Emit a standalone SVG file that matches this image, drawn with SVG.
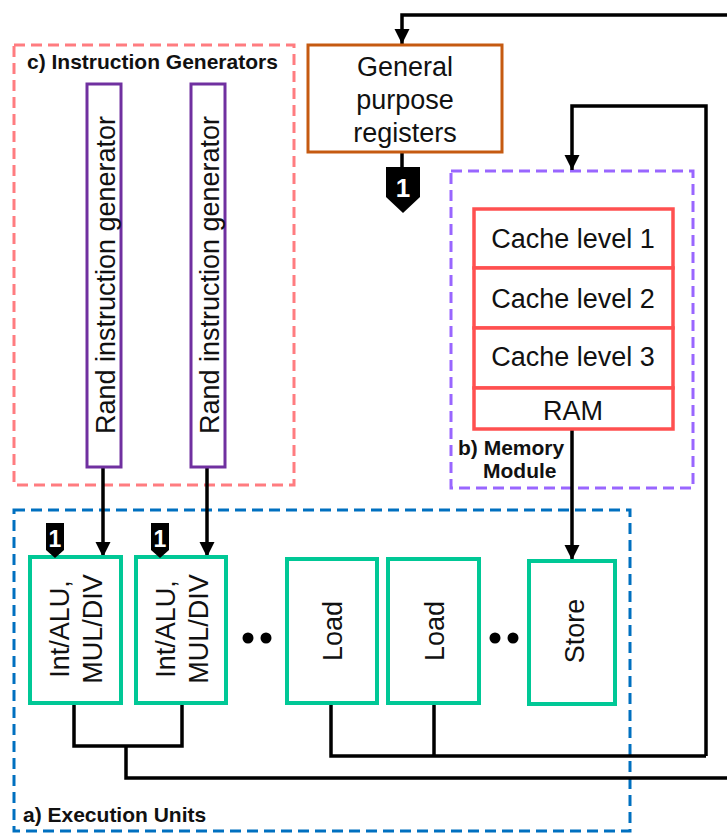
<svg xmlns="http://www.w3.org/2000/svg" width="727" height="833" viewBox="0 0 727 833">
  <style>
    .txt { font-family: "Liberation Sans", Arial, sans-serif; font-size: 27px; fill: #111; }
    .lbl { font-family: "Liberation Sans", Arial, sans-serif; font-size: 21px; font-weight: bold; fill: #111; }
    .badge-num { font-family: "Liberation Sans", Arial, sans-serif; font-weight: bold; fill: #fff; text-anchor: middle; }
    .unit { fill: #fff; stroke: #00C896; stroke-width: 4; }
    .gen { fill: #fff; stroke: #7030A0; stroke-width: 3; }
    .mem { fill: #fff; stroke: #FF5050; stroke-width: 3.5; }
    .wire { fill: none; stroke: #000; stroke-width: 3.5; }
    .group { fill: none; stroke-width: 3; stroke-dasharray: 11 6; }
  </style>
  <defs>
    <marker id="arrow" viewBox="0 0 10 10" refX="10" refY="5" markerWidth="4.3" markerHeight="4.3" markerUnits="strokeWidth" orient="auto">
      <path d="M0,0 L10,5 L0,10 Z" fill="#000"/>
    </marker>
  </defs>

  <!-- group frames -->
  <g id="instruction-generators">
    <rect class="group" x="14" y="45" width="280" height="440" stroke="#FF7C80"/>
    <text class="lbl" x="27" y="69">c) Instruction Generators</text>
  </g>
  <g id="execution-units">
    <rect class="group" x="14" y="510" width="616" height="321" stroke="#0070C0"/>
    <text class="lbl" x="23" y="822">a) Execution Units</text>
  </g>
  <g id="memory-module">
    <rect class="group" x="451" y="171" width="242" height="317" stroke="#9966FF"/>
    <text class="lbl" x="458" y="455">b) Memory</text>
    <text class="lbl" x="483" y="478">Module</text>
  </g>

  <!-- connectors -->
  <g id="connectors">
    <polyline class="wire" points="727,15 402,15 402,44" marker-end="url(#arrow)"/>
    <polyline class="wire" points="706,756 706,106 572,106 572,170" marker-end="url(#arrow)"/>
    <line class="wire" x1="402" y1="152" x2="402" y2="168"/>
    <line class="wire" x1="103" y1="467" x2="103" y2="557" marker-end="url(#arrow)"/>
    <line class="wire" x1="207" y1="467" x2="207" y2="557" marker-end="url(#arrow)"/>
    <line class="wire" x1="572" y1="429" x2="572" y2="560" marker-end="url(#arrow)"/>
    <polyline class="wire" points="74,703 74,746 182,746 182,703"/>
    <polyline class="wire" points="126,746 126,778 727,778"/>
    <polyline class="wire" points="331,703 331,756 706,756"/>
    <line class="wire" x1="434" y1="703" x2="434" y2="756"/>
  </g>

  <!-- register file -->
  <g id="gpr">
    <rect x="308" y="45" width="194" height="107" fill="#fff" stroke="#C55A11" stroke-width="3"/>
    <text class="txt" x="405" y="76" text-anchor="middle">General</text>
    <text class="txt" x="405" y="109" text-anchor="middle">purpose</text>
    <text class="txt" x="405" y="142" text-anchor="middle">registers</text>
  </g>
  <g id="badge-gpr">
    <path d="M386,167 H420 V197 L403,213 L386,197 Z" fill="#000"/>
    <text class="badge-num" x="403" y="197" font-size="26">1</text>
  </g>

  <!-- instruction generators -->
  <g id="gen-1">
    <rect class="gen" x="87" y="84" width="34" height="383"/>
    <text class="txt" transform="translate(115,275) rotate(-90)" text-anchor="middle">Rand instruction generator</text>
  </g>
  <g id="gen-2">
    <rect class="gen" x="191" y="84" width="34" height="383"/>
    <text class="txt" transform="translate(219,275) rotate(-90)" text-anchor="middle">Rand instruction generator</text>
  </g>

  <!-- memory hierarchy -->
  <g id="cache-l1">
    <rect class="mem" x="474" y="209" width="199" height="59"/>
    <text class="txt" x="573" y="248" text-anchor="middle">Cache level 1</text>
  </g>
  <g id="cache-l2">
    <rect class="mem" x="474" y="268" width="199" height="60"/>
    <text class="txt" x="573" y="308" text-anchor="middle">Cache level 2</text>
  </g>
  <g id="cache-l3">
    <rect class="mem" x="474" y="328" width="199" height="60"/>
    <text class="txt" x="573" y="366" text-anchor="middle">Cache level 3</text>
  </g>
  <g id="ram">
    <rect class="mem" x="474" y="388" width="199" height="41"/>
    <text class="txt" x="573" y="420" text-anchor="middle">RAM</text>
  </g>

  <!-- execution units -->
  <g id="int-alu-1">
    <rect class="unit" x="30" y="557" width="91" height="146"/>
    <text class="txt" transform="translate(69,629) rotate(-90)" text-anchor="middle">Int/ALU,</text>
    <text class="txt" transform="translate(102,629) rotate(-90)" text-anchor="middle">MUL/DIV</text>
  </g>
  <g id="badge-int-1">
    <path d="M46,523 H64 V550 L55,558 L46,550 Z" fill="#000"/>
    <text class="badge-num" x="55" y="547" font-size="23">1</text>
  </g>
  <g id="int-alu-2">
    <rect class="unit" x="136" y="557" width="90" height="146"/>
    <text class="txt" transform="translate(175,629) rotate(-90)" text-anchor="middle">Int/ALU,</text>
    <text class="txt" transform="translate(208,629) rotate(-90)" text-anchor="middle">MUL/DIV</text>
  </g>
  <g id="badge-int-2">
    <path d="M151,523 H169 V550 L160,558 L151,550 Z" fill="#000"/>
    <text class="badge-num" x="160" y="547" font-size="23">1</text>
  </g>
  <g id="ellipsis-1">
    <circle cx="248" cy="638" r="5.5" fill="#000"/>
    <circle cx="266" cy="638" r="5.5" fill="#000"/>
  </g>
  <g id="load-1">
    <rect class="unit" x="287" y="559" width="90" height="144"/>
    <text class="txt" transform="translate(342,631) rotate(-90)" text-anchor="middle">Load</text>
  </g>
  <g id="load-2">
    <rect class="unit" x="388" y="559" width="91" height="144"/>
    <text class="txt" transform="translate(444,631) rotate(-90)" text-anchor="middle">Load</text>
  </g>
  <g id="ellipsis-2">
    <circle cx="495" cy="638" r="5.5" fill="#000"/>
    <circle cx="513" cy="638" r="5.5" fill="#000"/>
  </g>
  <g id="store">
    <rect class="unit" x="529" y="561" width="86" height="143"/>
    <text class="txt" transform="translate(584,631) rotate(-90)" text-anchor="middle">Store</text>
  </g>
</svg>
